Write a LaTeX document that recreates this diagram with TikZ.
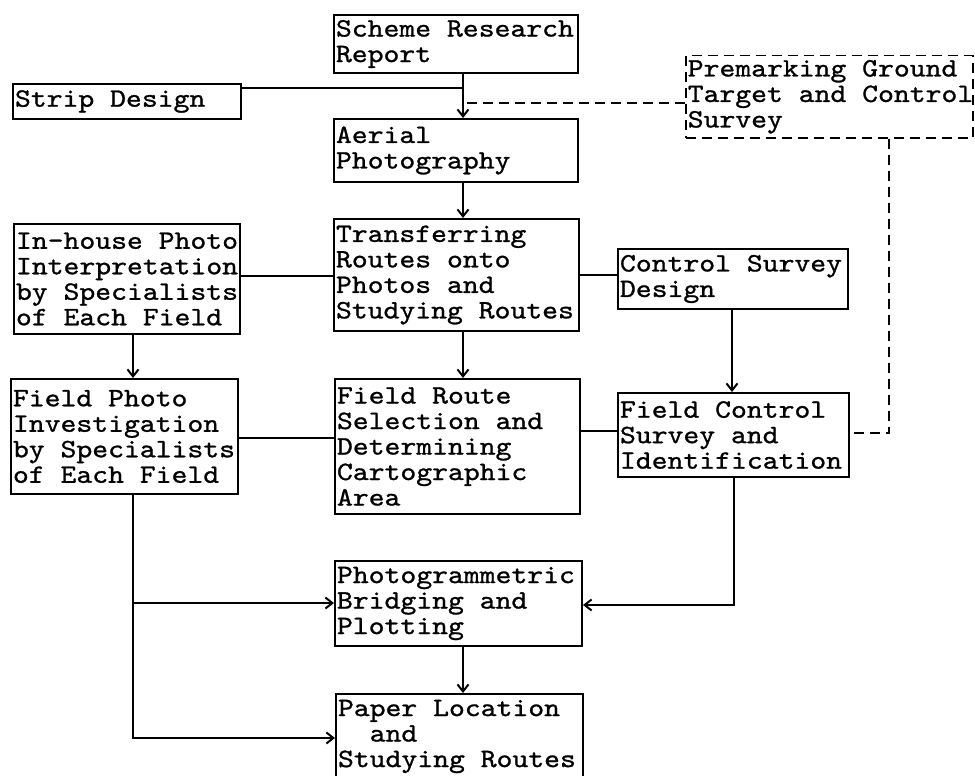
\documentclass[tikz,border=0pt]{standalone}
\usepackage{fontspec}
\newfontfamily\tw{lmmono10-regular}[Extension=.otf, FakeStretch=1.14, FakeBold=1.0]
\newcommand\wsp{\phantom{x}}
\usetikzlibrary{arrows.meta}
\begin{document}
\begin{tikzpicture}[x=1pt,y=-1pt,
  box/.style={draw, line width=2pt, anchor=north west, align=left,
    inner xsep=2pt, inner ysep=0pt,
    font=\fontsize{26.5}{25.5}\selectfont\tw},
  dbox/.style={box, dash pattern=on 10pt off 6pt, line width=1.5pt},
  conn/.style={line width=2pt},
  arr/.style={conn, -{Straight Barb[length=7pt,width=11pt]}},
  dashconn/.style={line width=1.5pt, dash pattern=on 10pt off 6pt}]
\useasboundingbox (0,0) rectangle (975,776);

\node[box, minimum width=244pt, text width=240pt, minimum height=58pt] (scheme) at (333,14) {Scheme\wsp Research\\Report};
\node[box, minimum width=228pt, text width=224pt, minimum height=35pt] (strip) at (12,83) {Strip\wsp Design};
\node[box, minimum width=244pt, text width=240pt, minimum height=63pt] (aerial) at (333,118) {Aerial\\Photography};
\node[dbox, minimum width=287pt, text width=283pt, minimum height=82pt] (premark) at (685,55) {Premarking\wsp Ground\\Target\wsp and\wsp Control\\Survey};
\node[box, minimum width=245pt, text width=241pt, minimum height=112pt] (transfer) at (333,218) {Transferring\\Routes\wsp onto\\Photos\wsp and\\Studying\wsp Routes};
\node[box, minimum width=226pt, text width=222pt, minimum height=110pt] (inhouse) at (13,223) {\mbox{In-house\wsp Photo}\\Interpretation\\by\wsp Specialists\\of\wsp Each\wsp Field};
\node[box, minimum width=230pt, text width=226pt, minimum height=60pt] (csd) at (617,248) {Control\wsp Survey\\Design};
\node[box, minimum width=227pt, text width=223pt, minimum height=115pt] (inv) at (10,378) {Field\wsp Photo\\Investigation\\by\wsp Specialists\\of\wsp Each\wsp Field};
\node[box, minimum width=245pt, text width=241pt, minimum height=135pt] (route) at (334,378) {Field\wsp Route\\Selection\wsp and\\Determining\\Cartographic\\Area};
\node[box, minimum width=231pt, text width=227pt, minimum height=84pt] (fcs) at (617,392) {Field\wsp Control\\Survey\wsp and\\Identification};
\node[box, minimum width=247pt, text width=243pt, minimum height=85pt] (photo) at (334,560) {Photogrammetric\\Bridging\wsp and\\Plotting};
\node[box, minimum width=247pt, text width=243pt, minimum height=85pt] (paper) at (335,693) {Paper\wsp Location\\\wsp\wsp and\\Studying\wsp Routes};

\coordinate (cx) at (463,0);
\coordinate (xL) at (133,0);
\coordinate (xC) at (732,0);
\coordinate (xR) at (734,0);
\coordinate (xD) at (889,0);
\coordinate (yS) at (0,88);
\coordinate (yD) at (0,103);
\coordinate (yF) at (0,433);
\coordinate (y1) at (0,276);
\coordinate (y2) at (0,275);
\coordinate (y3) at (0,438);
\coordinate (y4) at (0,431);
\coordinate (yP) at (0,603);
\coordinate (yQ) at (0,605);
\coordinate (yA) at (0,738);

\draw[arr] (scheme.south -| cx) -- (aerial.north -| cx);
\draw[conn] (strip.east |- yS) -- (cx |- yS);
\draw[dashconn] (premark.west |- yD) -- (cx |- yD);
\draw[dashconn] (premark.south -| xD) |- (fcs.east |- yF);
\draw[arr] (aerial.south -| cx) -- (transfer.north -| cx);
\draw[conn] (inhouse.east |- y1) -- (transfer.west |- y1);
\draw[conn] (transfer.east |- y2) -- (csd.west |- y2);
\draw[arr] (csd.south -| xC) -- (fcs.north -| xC);
\draw[arr] (inhouse.south -| xL) -- (inv.north -| xL);
\draw[arr] (transfer.south -| cx) -- (route.north -| cx);
\draw[conn] (inv.east |- y3) -- (route.west |- y3);
\draw[conn] (route.east |- y4) -- (fcs.west |- y4);
\draw[arr] (inv.south -| xL) |- (photo.west |- yP);
\draw[arr] (inv.south -| xL) |- (paper.west |- yA);
\draw[arr] (fcs.south -| xR) |- (photo.east |- yQ);
\draw[arr] (photo.south -| cx) -- (paper.north -| cx);
\end{tikzpicture}
\end{document}
